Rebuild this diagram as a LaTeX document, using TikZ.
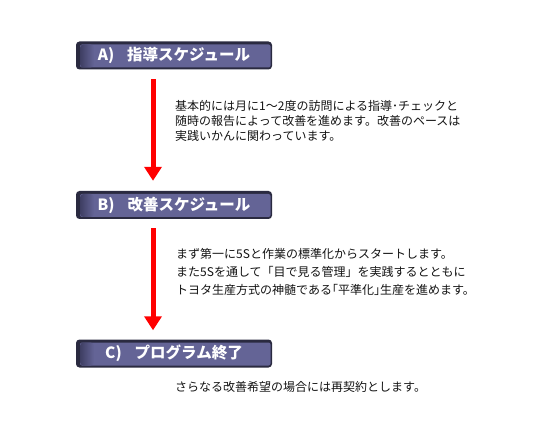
\documentclass[tikz,border=0pt]{standalone}
\usepackage{fontspec}
\setmainfont{Noto Sans CJK JP}
\usetikzlibrary{arrows.meta}
\definecolor{boxdark}{RGB}{42,42,64}
\definecolor{boxmain}{RGB}{100,100,150}
\definecolor{boxshade}{RGB}{62,62,98}
\definecolor{arrowred}{RGB}{255,0,0}
\definecolor{bodycol}{RGB}{20,20,20}
\begin{document}
\begin{tikzpicture}[x=1bp,y=-1bp,
 stagebox/.style={minimum width=196bp, minimum height=28bp, rounded corners=3.5bp, fill=boxdark, inner sep=0pt, text=white,
   font=\fontsize{15.5bp}{18bp}\selectfont\bfseries,
   path picture={
     \fill[boxmain, rounded corners=2bp] ([xshift=4bp,yshift=-3bp]path picture bounding box.north west) rectangle ([xshift=-1.5bp,yshift=2bp]path picture bounding box.south east);
     \shade[left color=boxshade, right color=boxmain] ([xshift=4bp,yshift=-3bp]path picture bounding box.north west) rectangle ([xshift=18bp,yshift=2bp]path picture bounding box.south west);
   }},
 bodytext/.style={anchor=north west, inner sep=0pt, align=left, text=bodycol, font=\fontsize{12bp}{15bp}\selectfont},
 flowarrow/.style={draw=arrowred, line width=5bp, -{Triangle[width=17bp,length=14bp]}}
]
\useasboundingbox[fill=white] (0,0) rectangle (550,440);

\node[stagebox] (boxA) at (174,55.5) {A)\hspace{13bp}指導スケジュール};
\node[stagebox] (boxB) at (174,205) {B)\hspace{13bp}改善スケジュール};
\node[stagebox] (boxC) at (174,353.5) {C)\hspace{13bp}プログラム終了};

\draw[flowarrow] ([xshift=-21bp,yshift=-9.5bp]boxA.south) -- ([xshift=-21bp,yshift=10bp]boxB.north);
\draw[flowarrow] ([xshift=-21bp,yshift=-9bp]boxB.south) -- ([xshift=-21bp,yshift=9bp]boxC.north);

\node[bodytext] (tA) at (175,100) {基本的には月に1～2度の訪問による指導･チェックと\\随時の報告によって改善を進めます。改善のペースは\\実践いかんに関わっています。};
\node[bodytext, font=\fontsize{12bp}{18bp}\selectfont] (tB) at (176,248) {まず第一に5Sと作業の標準化からスタートします。\\また5Sを通して「目で見る管理」を実践するとともに\\トヨタ生産方式の神髄である｢平準化｣生産を進めます。};
\node[bodytext] (tC) at (175,381) {さらなる改善希望の場合には再契約とします。};
\end{tikzpicture}
\end{document}
